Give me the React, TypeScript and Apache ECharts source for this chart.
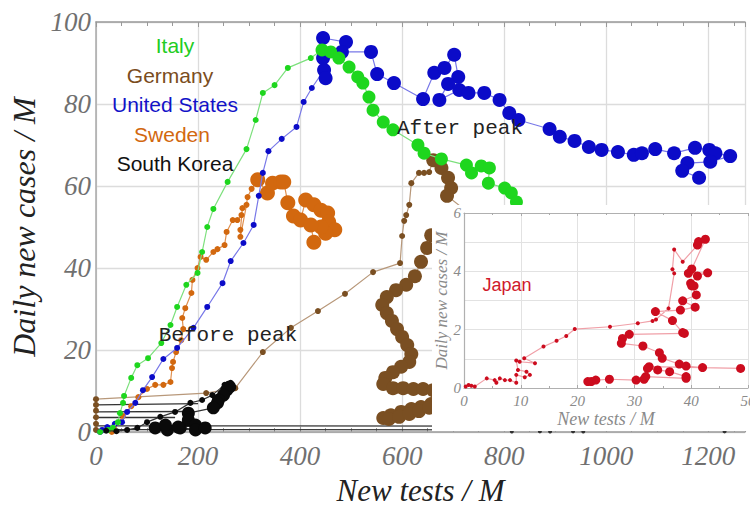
import React, { useEffect, useRef } from "react";
import * as echarts from "echarts";

// ---- Main panel data: [new tests / M, daily new cases / M] ----
const italy: number[][] = [
  [8, 0], [24, 0.5], [33, 1], [43, 2.4], [47, 4.6], [53, 7.1], [55, 8.8], [69, 13.2], [81, 16.3], [102, 18],
  [128, 21.7], [146, 26.1], [159, 30.5], [177, 35.9], [199, 38.8], [208, 43.9], [218, 50], [230, 54.4], [258, 61],
  [295, 69], [313, 76.1], [327, 82.7], [350, 84.6], [376, 88.8], [421, 91.2],
  [443, 93.2], [460, 92.7], [476, 91.2], [496, 89], [513, 86.6], [523, 85.1], [535, 81.7], [543, 78.5], [563, 75.6],
  [582, 73.7], [631, 70], [643, 68], [677, 66.6], [726, 65.1], [736, 63.2], [755, 64.9], [771, 64.4], [769, 60.7],
  [801, 59.5], [814, 58.3], [824, 56.1],
];
const italyPeak = 25;

const unitedStates: number[][] = [
  [8, 0], [12, 0.5], [22, 1.2], [37, 2.0], [51, 2.4], [61, 4.9], [77, 7.1], [92, 10.2], [110, 13.4], [132, 17.8],
  [159, 20.5], [191, 25.4], [218, 30.5], [248, 36.3], [264, 41.7], [289, 46.1], [309, 50.5], [319, 57.6], [327, 63.2],
  [338, 68.5], [364, 71.5], [393, 74.4], [407, 80.5], [423, 83.9],
  [447, 88.3], [445, 91.2], [450, 86.3], [445, 96.1], [490, 95.1], [482, 92.7], [539, 92.7], [551, 87.3], [584, 85.1],
  [641, 81.2], [663, 87.6], [683, 88.8], [702, 92], [710, 86.6], [690, 84.9], [673, 81], [712, 83.4], [730, 82.7],
  [761, 82.7], [791, 81], [810, 77.8], [828, 76.1], [889, 73.9], [909, 72], [938, 71], [966, 69.5], [991, 68.8],
  [1023, 68.3], [1054, 67.6], [1070, 68], [1096, 69], [1133, 68], [1174, 69.3], [1202, 68.8], [1214, 68], [1243, 67.3],
  [1204, 65.9], [1159, 65.6], [1149, 63.7], [1182, 62],
];
const unitedStatesPeak = 24;

const sweden: number[][] = [
  [31, 0], [35, 1.2], [53, 3.9], [69, 6.3], [83, 8.5], [100, 10.5], [116, 11.5], [132, 11.5], [146, 12.2], [149, 15.6],
  [151, 17.1], [157, 19.5], [167, 22.4], [171, 25.1], [169, 27.8], [175, 30.2], [187, 33.9], [189, 37.1], [199, 40],
  [205, 42.7], [216, 42], [230, 43.9], [238, 44.6], [252, 45.6], [256, 48.8], [268, 51.7], [277, 51.7], [285, 52.9],
  [287, 54.6], [283, 49.3], [283, 47.6], [295, 55.4], [297, 57.3], [305, 59.3],
  [317, 61.5], [336, 58.3], [346, 60.7], [362, 61], [368, 61], [376, 55.9], [387, 52.7], [401, 51.7], [411, 56.6],
  [427, 55.4], [441, 54.1], [454, 53.4], [456, 51.2], [468, 49.3], [450, 48.5], [441, 50], [421, 50.5], [427, 46.3],
];
const swedenPeak = 34;

const germany: number[][] = [
  [0, 0.5], [0, 2], [0, 3.6], [0, 5.2], [0, 6.6], [0, 8.0], [216, 9.5], [273, 10.7], [327, 19.5], [382, 25.4],
  [435, 29.5], [488, 33.7], [543, 39], [596, 41.2], [600, 47.8], [604, 51.5], [608, 52.9], [614, 55.4], [618, 60.7],
  [633, 63.2], [643, 63.2], [653, 63.4],
  [661, 66.3], [677, 64.4], [690, 62.0], [696, 59.5], [688, 57.6], [736, 52.9], [657, 48.0], [649, 44.9], [637, 41.5],
  [625, 38.0], [608, 35.9], [588, 34.6], [570, 32.9], [561, 31.0], [570, 29.0], [580, 27.1], [590, 25.1], [600, 23.2],
  [610, 21.2], [618, 19.0], [614, 17.1], [598, 15.9], [582, 14.6], [567, 13.2], [563, 11.7], [582, 10.7], [602, 10.7],
  [622, 10.5], [641, 10.5], [661, 10.2], [657, 6.8], [637, 6.1], [618, 5.6], [598, 4.9], [578, 4.1], [563, 3.4],
  [574, 3.2], [594, 3.7], [614, 4.4], [633, 5.1], [653, 5.9],
];
const germanyPeak = 22;

const southKorea: number[][] = [
  [20, 0.3], [40, 0.2], [61, 0.5], [81, 1.0], [100, 2.4], [126, 3.7], [155, 4.9], [185, 7.1], [208, 7.8], [228, 9.0],
  [252, 11.5], [264, 12],
  [262, 11.0], [256, 10.2], [250, 9.0], [240, 7.8], [238, 7.1], [230, 5.9], [181, 4.6], [181, 2.9], [195, 1.7],
  [165, 1.0], [140, 0.5], [116, 1.0], [136, 1.7], [161, 1.2], [195, 0.5], [214, 1.0],
];
const southKoreaPeak = 12;

// stray horizontal traces of the South Korea record (from zero tests)
const koreaTraces: number[][][] = [
  [[0, 6.6], [200, 6.9]],
  [[0, 4.9], [180, 5.0]],
  [[0, 3.6], [155, 3.7]],
  [[0, 1.5], [1272, 1.4]],
  [[0, 0.6], [1272, 0.5]],
];
const koreaFar: number[][] = [[815, 0.1], [870, 0.15], [890, 0.1], [935, 0.15], [955, 0.1], [1232, 0.15]];

// ---- Inset: Japan ----
const japan: number[][] = [
  [0.3, 0.05], [0.8, 0.1], [1.3, 0.08], [1.9, 0.05], [4, 0.33], [5.4, 0.27], [5.7, 0.18], [6.3, 0.33], [7.2, 0.27],
  [8.1, 0.27], [9.2, 0.18], [9.2, 0.45], [10.7, 0.37], [11.6, 0.45], [11, 0.56], [9.5, 0.62], [9.2, 0.94], [9.8, 0.9],
  [12.5, 0.85], [10.6, 1.02], [14, 1.42], [16.3, 1.62], [18, 1.78], [19.5, 2.02], [25.7, 2.1], [30.6, 2.22], [33.2, 2.3],
  [33.8, 2.35], [36, 2.73], [37, 3.93], [36.7, 4.07], [37, 4.75], [38.5, 4.33],
  [41.1, 4.9], [41.3, 5.02], [42.5, 5.1], [40.1, 4.08], [39.5, 3.93], [42.9, 3.95], [41.1, 3.84], [39.9, 3.59],
  [40.5, 3.5], [40.1, 3.5], [40.9, 3.19], [38.5, 2.99], [40.7, 2.77], [38.1, 2.67], [33.7, 2.62], [36.7, 2.31],
  [38.5, 1.9], [38.8, 1.87], [29.1, 1.84], [27.9, 1.7], [27.7, 1.53], [31.5, 1.44], [34.4, 1.21], [34.9, 1.02],
  [37.9, 0.82], [39.1, 0.75], [42, 0.7], [48.7, 0.67], [32.6, 0.73], [32.3, 0.67], [34.1, 0.62], [36.2, 0.56],
  [39.1, 0.39], [39.1, 0.33], [32, 0.39], [31.7, 0.3], [30.3, 0.27], [25.6, 0.3], [23.2, 0.27], [22.4, 0.22],
  [21.8, 0.22],
];
const japanPeak = 33;

const countryLabels = ["Italy", "Germany", "United States", "Sweden", "South Korea"];

const SERIF = "Liberation Serif, Times New Roman, serif";
const SANS = "Liberation Sans, Arial, sans-serif";
const MONO = "Liberation Mono, Courier New, monospace";

function traj(name: string, data: number[][], peak: number, color: string, lineColor: string, small: number, big: number, z: number, axes: { x: number; y: number }) {
  return {
    type: "line",
    name,
    data,
    xAxisIndex: axes.x,
    yAxisIndex: axes.y,
    symbol: "circle",
    symbolSize: (_v: any, p: any) => (p.dataIndex >= peak ? big : small),
    itemStyle: { color },
    lineStyle: { color: lineColor, width: 1.2 },
    z,
    silent: true,
  };
}

export default function App() {
  const ref = useRef<HTMLDivElement>(null);
  useEffect(() => {
    const chart = echarts.init(ref.current!, null, { renderer: "svg" });
    const mainAxisLabel = { fontFamily: SERIF, fontStyle: "italic", fontSize: 27, color: "#707070" };
    const insetAxisLabel = { fontFamily: SERIF, fontStyle: "italic", fontSize: 15, color: "#8a8a8a" };
    const legendColors = ["#22cc22", "#7a4c20", "#1212c8", "#d2680f", "#111111"];
    const legendY = [45, 75, 104, 134, 163];
    const legendX = [175, 170, 175, 172, 175];
    chart.setOption({
      animation: false,
      backgroundColor: "#ffffff",
      grid: [
        { left: 96, top: 22, width: 649, height: 410, outerBoundsMode: "none", containLabel: false },
        { left: 464, top: 213, width: 284, height: 175, outerBoundsMode: "none", containLabel: false },
      ],
      xAxis: [
        {
          type: "value", gridIndex: 0, min: 0, max: 1272, interval: 200, position: "bottom",
          name: "New tests / M", nameLocation: "middle", nameGap: 43,
          nameTextStyle: { fontFamily: SERIF, fontStyle: "italic", fontSize: 31, color: "#222" },
          axisLine: { show: true, lineStyle: { color: "#9a9a9a", width: 1.5 } },
          axisTick: { show: true, inside: true, length: 5, lineStyle: { color: "#999" } },
          minorTick: { show: true, splitNumber: 4, length: 4, lineStyle: { color: "#999" } },
          axisLabel: { ...mainAxisLabel, margin: 10, showMaxLabel: false, formatter: (v: number) => String(v) },
          splitLine: { show: true, lineStyle: { color: "#dcdcdc", width: 1.3 } },
        },
        {
          type: "value", gridIndex: 0, min: 0, max: 1272, interval: 200, position: "top",
          axisLine: { show: true, lineStyle: { color: "#9a9a9a", width: 1.5 } },
          axisTick: { show: true, inside: true, length: 5, lineStyle: { color: "#999" } },
          minorTick: { show: true, splitNumber: 4, length: 4, lineStyle: { color: "#999" } },
          axisLabel: { show: false },
          splitLine: { show: false },
        },
        {
          type: "value", gridIndex: 1, min: 0, max: 50, interval: 10, position: "bottom", z: 11,
          name: "New tests / M", nameLocation: "middle", nameGap: 22,
          nameTextStyle: { fontFamily: SERIF, fontStyle: "italic", fontSize: 18, color: "#8a8a8a" },
          axisLine: { show: true, lineStyle: { color: "#b0b0b0", width: 1.2 } },
          axisTick: { show: true, inside: true, length: 3, lineStyle: { color: "#aaa" } },
          minorTick: { show: true, splitNumber: 2, length: 2, lineStyle: { color: "#aaa" } },
          axisLabel: { ...insetAxisLabel, margin: 5, formatter: (v: number) => String(v) },
          splitLine: { show: true, lineStyle: { color: "#e2e2e2", width: 1 } },
        },
        {
          type: "value", gridIndex: 1, min: 0, max: 50, interval: 10, position: "top", z: 11,
          axisLine: { show: true, lineStyle: { color: "#b0b0b0", width: 1.2 } },
          axisTick: { show: true, inside: true, length: 3, lineStyle: { color: "#aaa" } },
          minorTick: { show: true, splitNumber: 2, length: 2, lineStyle: { color: "#aaa" } },
          axisLabel: { show: false },
          splitLine: { show: false },
        },
      ],
      yAxis: [
        {
          type: "value", gridIndex: 0, min: 0, max: 100, interval: 20,
          name: "Daily new cases / M", nameLocation: "middle", nameGap: 50, nameRotate: 90,
          nameTextStyle: { fontFamily: SERIF, fontStyle: "italic", fontSize: 32, color: "#222" },
          axisLine: { show: true, lineStyle: { color: "#a8a8a8", width: 1.5 } },
          axisTick: { show: false },
          axisLabel: { ...mainAxisLabel, margin: 5 },
          splitLine: { show: true, lineStyle: { color: "#dcdcdc", width: 1.3 } },
        },
        {
          type: "value", gridIndex: 1, min: 0, max: 6, interval: 1, z: 11,
          name: "Daily new cases / M", nameLocation: "middle", nameGap: 14, nameRotate: 90,
          nameTextStyle: { fontFamily: SERIF, fontStyle: "italic", fontSize: 17, color: "#8a8a8a" },
          axisLine: { show: true, lineStyle: { color: "#b0b0b0", width: 1.2 } },
          axisTick: { show: false },
          axisLabel: { ...insetAxisLabel, margin: 3, formatter: (v: number) => (v % 2 === 0 ? String(v) : "") },
          splitLine: { show: true, lineStyle: { color: "#e2e2e2", width: 1 } },
        },
      ],
      graphic: [
        { type: "rect", shape: { x: 432, y: 205, width: 318, height: 226 }, style: { fill: "#ffffff" }, z: 10, silent: true },
        ...countryLabels.map((t, i) => ({
          type: "text", x: legendX[i], y: legendY[i], z: 20,
          style: { text: t, fill: legendColors[i], font: `21px ${SANS}`, align: "center", verticalAlign: "middle" },
        })),
        { type: "text", x: 460, y: 128, z: 20, style: { text: "After peak", fill: "#222", font: `21px ${MONO}`, align: "center", verticalAlign: "middle" } },
        { type: "text", x: 228, y: 335, z: 20, style: { text: "Before peak", fill: "#222", font: `21px ${MONO}`, align: "center", verticalAlign: "middle" } },
        { type: "text", x: 507, y: 285, z: 20, style: { text: "Japan", fill: "#d0192b", font: `18px ${SANS}`, align: "center", verticalAlign: "middle" } },
      ],
      series: [
        {
          type: "lines", coordinateSystem: "cartesian2d", xAxisIndex: 0, yAxisIndex: 0, z: 1, silent: true,
          data: koreaTraces.map((c) => ({ coords: c })),
          lineStyle: { color: "#333", width: 1.3, opacity: 1, curveness: 0 },
        },
        traj("Germany", germany, germanyPeak, "#7a4f22", "#b8987a", 6, 14, 3, { x: 0, y: 0 }),
        traj("Sweden", sweden, swedenPeak, "#d2680f", "#e09050", 6, 15, 4, { x: 0, y: 0 }),
        traj("United States", unitedStates, unitedStatesPeak, "#0b0bc8", "#7878e8", 6, 14, 5, { x: 0, y: 0 }),
        traj("Italy", italy, italyPeak, "#1ed61e", "#7de07d", 6, 13, 6, { x: 0, y: 0 }),
        traj("South Korea", southKorea, southKoreaPeak, "#0a0a0a", "#333333", 6, 13, 7, { x: 0, y: 0 }),
        {
          type: "scatter", xAxisIndex: 0, yAxisIndex: 0, data: koreaFar, symbolSize: 4, z: 7, silent: true,
          itemStyle: { color: "#111" },
        },
        traj("Japan", japan, japanPeak, "#cc0c1e", "#f0a0a8", 4, 9, 12, { x: 2, y: 1 }),
      ],
    });
    return () => chart.dispose();
  }, []);
  return <div ref={ref} style={{ position: "absolute", left: 0, top: 0, width: 750, height: 510 }} />;
}
